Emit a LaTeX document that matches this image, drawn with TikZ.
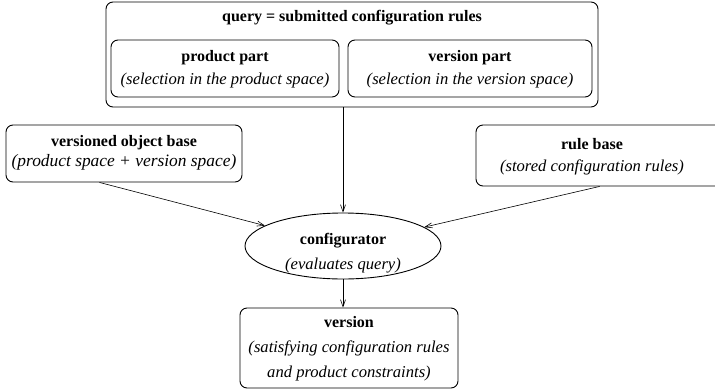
\documentclass[tikz,border=0pt]{standalone}
\usepackage{fontspec}
\setmainfont{Liberation Serif}
\usetikzlibrary{arrows.meta,calc,shapes.geometric}
\newcommand{\itl}{\fontsize{16.6}{21}\selectfont\itshape}
\begin{document}
\begin{tikzpicture}[x=1pt,y=-1pt,
  box/.style={draw,line width=0.9pt,rounded corners=7pt,inner sep=0pt,align=center},
  lbl/.style={inner sep=0pt,align=center,font=\fontsize{16}{21}\selectfont},
  arr/.style={draw,line width=0.6pt,-{Straight Barb[length=7pt,width=5pt]}}]
\useasboundingbox (0,0) rectangle (715,389);
% query box
\node[box,minimum width=492,minimum height=105] (query) at (352,54.5) {};
\node[lbl] (qtitle) at (352,18) {\bfseries query = submitted configuration rules};
\node[box,minimum width=228,minimum height=57] (prod) at (225,68.5) {};
\node[lbl,font=\fontsize{16}{23}\selectfont] (prodt) at (225,69.5) {\bfseries product part\\\itl (selection in the product space)};
\node[box,minimum width=244,minimum height=57] (vers) at (470,68.5) {};
\node[lbl,font=\fontsize{16}{23}\selectfont] (verst) at (470,69.5) {\bfseries version part\\\itl (selection in the version space)};
% versioned object base
\node[box,minimum width=236,minimum height=57] (vob) at (124,153.5) {};
\node[lbl,font=\fontsize{16}{20}\selectfont] (vobt) at (124,153) {\bfseries versioned object base\\{\fontsize{17.4}{21}\selectfont\itshape (product space + version space)}};
% rule base
\node[box,minimum width=246,minimum height=61] (rule) at (599,155.5) {};
\node[lbl,font=\fontsize{16}{22}\selectfont] (rulet) at (592,157) {\bfseries rule base\\\itl (stored configuration rules)};
% configurator
\node[draw,line width=0.9pt,ellipse,minimum width=196,minimum height=66,inner sep=0pt] (conf) at (343,246) {};
\node[lbl,font=\fontsize{16}{25}\selectfont] (conft) at (343,253) {\bfseries configurator\\\itl (evaluates query)};
% version
\node[box,minimum width=218,minimum height=80] (ver) at (349,348) {};
\node[lbl,font=\fontsize{16}{25}\selectfont] (vert) at (349,349) {\bfseries version\\\itl (satisfying configuration rules\\\itl and product constraints)};
% connectors
\coordinate (vobout) at ($(vob.south west)+(94,0)$);
\coordinate (ruleout) at ($(rule.south west)+(124,0)$);
\draw[arr] (query.south -| conf.north) -- (conf.north);
\draw[arr] (vobout) -- (conf);
\draw[arr] (ruleout) -- (conf);
\draw[arr] (conf.south) -- (conf.south |- ver.north);
\end{tikzpicture}
\end{document}
